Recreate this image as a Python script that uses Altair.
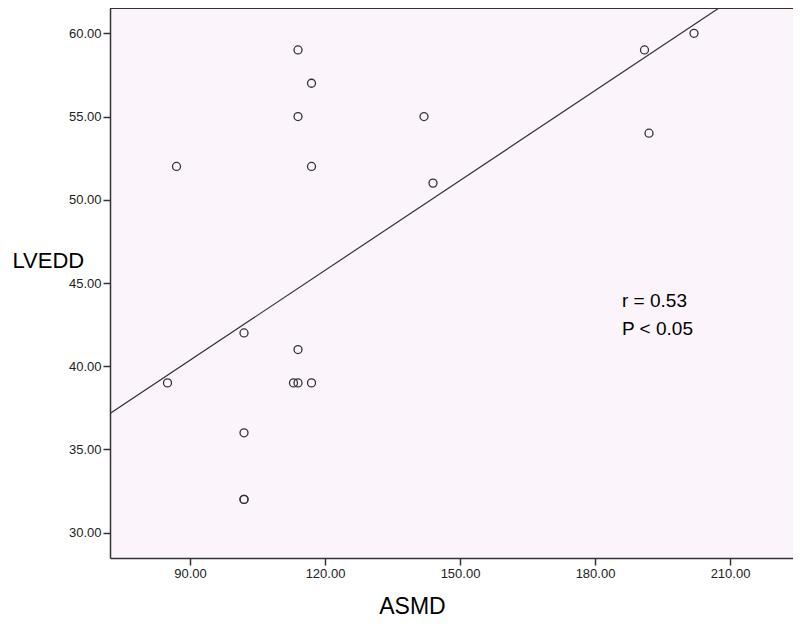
import altair as alt
import pandas as pd

asmd = [87, 85, 102, 102, 102, 102, 114, 117, 114, 117, 114, 113, 114, 117, 142, 144, 191, 202, 192]
lvedd = [52, 39, 42, 36, 32, 32, 59, 57, 55, 52, 41, 39, 39, 39, 55, 51, 59, 60, 54]
fit_asmd = [72.0, 224.0]
fit_lvedd = [37.12, 64.48]
x_ticks = [90, 120, 150, 180, 210]
y_ticks = [30, 35, 40, 45, 50, 55, 60]
x_domain = [72.22, 224.0]
y_domain = [28.48, 61.52]
annotation = ["r = 0.53", "P < 0.05"]

df = pd.DataFrame({"ASMD": asmd, "LVEDD": lvedd})
fit_df = pd.DataFrame({"ASMD": fit_asmd, "LVEDD": fit_lvedd})

ink = "#333333"
W, H = 683, 550

xenc = alt.X("ASMD:Q", scale=alt.Scale(domain=x_domain, nice=False, zero=False),
             axis=alt.Axis(values=x_ticks, format=".2f", title="ASMD",
                           titleX=302, titleY=55, titleAlign="center", titleBaseline="alphabetic",
                           titleFontSize=23, titleFontWeight="normal", titleColor="black",
                           titleFont="Liberation Sans"))
yenc = alt.Y("LVEDD:Q", scale=alt.Scale(domain=y_domain, nice=False, zero=False),
             axis=alt.Axis(values=y_ticks, format=".2f", title="LVEDD", titleAngle=0,
                           titleX=-98, titleY=259, titleAlign="left", titleBaseline="alphabetic",
                           titleFontSize=22, titleFontWeight="normal", titleColor="black",
                           titleFont="Liberation Sans"))

points = alt.Chart(df).mark_point(shape="circle", filled=False, size=64, stroke=ink,
                                  strokeWidth=1.3, opacity=1).encode(x=xenc, y=yenc)

line = alt.Chart(fit_df).mark_line(clip=True, color=ink, strokeWidth=1.2).encode(
    x="ASMD:Q", y="LVEDD:Q")

top_border = alt.Chart(df).mark_rule(color=ink, strokeWidth=1.5).encode(
    x=alt.value(0), x2=alt.value(W), y=alt.value(0))

ann_df = pd.DataFrame({"t": ["\n".join(annotation)]})
ann = alt.Chart(ann_df).mark_text(align="left", baseline="alphabetic", fontSize=19,
                                  font="Liberation Sans", color="black",
                                  lineBreak="\n", lineHeight=28.5).encode(
    text="t:N",
    x=alt.value(512),
    y=alt.value(298.7),
)

chart = alt.layer(line, points, top_border, ann).properties(
    width=W, height=H,
    autosize=alt.AutoSizeParams(type="none"),
    padding={"left": 102, "top": 0, "right": 0, "bottom": 64},
).configure_view(fill="#FBF4FB", stroke="transparent").configure_axis(
    grid=False, domainColor=ink, domainWidth=1.5, tickColor=ink, tickWidth=1.5, tickSize=7,
    labelFont="Liberation Sans", labelFontSize=13, labelColor="#222222", labelPadding=2,
)

chart.save("out.html", embed_options={"renderer": "svg", "actions": False})
